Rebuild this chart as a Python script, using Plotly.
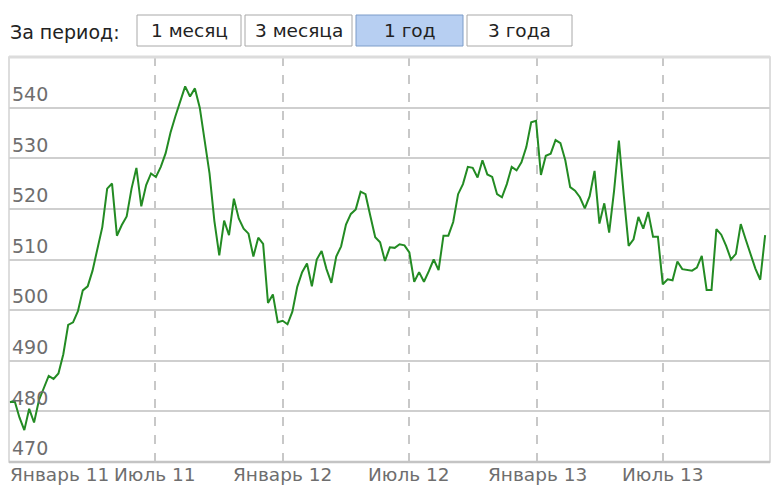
import pandas as pd
import plotly.graph_objects as go

# данные: недельные значения
start_date = "2010-12-05"
values = [
    481.8, 482.1, 478.8, 476.3, 480.5, 477.8, 482.2, 484.8, 487.0, 486.4,
    487.5, 491.3, 497.1, 497.6, 499.8, 503.9, 504.7, 507.8, 511.8, 516.4,
    524.0, 525.0, 514.7, 516.8, 518.5, 524.0, 528.1, 520.5, 524.7, 527.0,
    526.3, 528.3, 531.0, 535.1, 538.3, 541.3, 544.2, 542.2, 543.8, 540.0,
    533.5, 527.0, 517.6, 510.8, 517.7, 514.8, 522.0, 518.1, 516.1, 515.1,
    510.6, 514.3, 513.1, 501.4, 503.1, 497.6, 497.9, 497.2, 499.7, 504.6,
    507.5, 509.2, 504.7, 510.0, 511.7, 508.1, 505.4, 510.6, 512.6, 516.9,
    519.0, 519.9, 523.4, 522.9, 518.6, 514.4, 513.4, 509.7, 512.4, 512.3,
    513.0, 512.8, 511.4, 505.6, 507.5, 505.6, 507.7, 510.0, 507.9, 514.7,
    514.7, 517.4, 522.9, 524.9, 528.3, 528.1, 526.2, 529.6, 526.8, 526.3,
    522.9, 522.3, 524.9, 528.3, 527.6, 529.2, 532.2, 537.1, 537.4, 526.7,
    530.5, 530.9, 533.6, 533.0, 529.6, 524.3, 523.6, 522.3, 520.1, 522.5,
    527.5, 517.1, 521.1, 515.3, 523.5, 533.5, 522.6, 512.7, 514.0, 518.4,
    516.1, 519.4, 514.5, 514.5, 505.1, 506.1, 505.9, 509.6, 508.1, 507.9,
    507.8, 508.4, 510.7, 504.0, 504.0, 516.0, 514.9, 512.7, 510.0, 511.1,
    517.0, 514.0, 511.1, 508.2, 506.0, 514.8,
]
dates = pd.date_range(start_date, periods=len(values), freq="7D")

x_tick_vals = ["2011-01-01", "2011-07-01", "2012-01-01", "2012-07-01", "2013-01-01", "2013-07-01"]
x_tick_text = ["Январь 11", "Июль 11", "Январь 12", "Июль 12", "Январь 13", "Июль 13"]
y_tick_vals = [470, 480, 490, 500, 510, 520, 530, 540]

periods = ["1 месяц", "3 месяца", "1 год", "3 года"]
active_period = "1 год"

# страница добавляет отступ 8px у body — учитываем его
OFF = 8
W, H = 779 - OFF, 492 - OFF
PLOT_L, PLOT_R, PLOT_T, PLOT_B = 9, 770, 57, 462  # координаты окна
L, R, T, B = PLOT_L - OFF, W - (PLOT_R - OFF), PLOT_T - OFF, H - (PLOT_B - OFF)
FONT = "DejaVu Sans"
AXIS_COLOR = "#6e6e6e"


def px_x(p):
    return (p - PLOT_L) / (PLOT_R - PLOT_L)


def px_y(p):
    return (PLOT_B - p) / (PLOT_B - PLOT_T)


fig = go.Figure()
fig.add_trace(go.Scatter(
    x=dates,
    y=values,
    mode="lines",
    line=dict(color="#238b23", width=2),
    hoverinfo="x+y",
))

fig.update_layout(
    width=W,
    height=H,
    margin=dict(l=L, r=R, t=T, b=B),
    paper_bgcolor="white",
    plot_bgcolor="white",
    showlegend=False,
    font=dict(family=FONT, size=18, color=AXIS_COLOR),
    xaxis=dict(
        range=["2010-12-04", "2013-12-01"],
        tickvals=x_tick_vals,
        showticklabels=False,
        showgrid=True,
        gridcolor="#c8c8c8",
        griddash="dash",
        gridwidth=1.5,
        zeroline=False,
        showline=False,
        ticks="",
    ),
    yaxis=dict(
        range=[470, 550],
        tickvals=y_tick_vals,
        ticklabelposition="inside top",
        showgrid=True,
        gridcolor="#cfcfcf",
        gridwidth=1.5,
        zeroline=False,
        showline=False,
        ticks="",
        tickfont=dict(family=FONT, size=19, color=AXIS_COLOR),
    ),
)

# рамка области построения
fig.add_shape(type="rect", xref="paper", yref="paper", x0=0, x1=1, y0=0, y1=1,
              line=dict(color="#d2d2d2", width=1.5), layer="above")
fig.add_shape(type="line", xref="paper", yref="paper", x0=0, x1=1, y0=1, y1=1,
              line=dict(color="#dcdcdc", width=3), layer="above")
fig.add_shape(type="line", xref="paper", yref="paper", x0=0, x1=1, y0=0, y1=0,
              line=dict(color="#c4c4c4", width=2.5), layer="above")

# подписи оси X
for i, (tv, tt) in enumerate(zip(x_tick_vals, x_tick_text)):
    if i == 0:
        fig.add_annotation(x=px_x(8), xref="paper", y=px_y(474), yref="paper",
                           text=tt, showarrow=False, xanchor="left", yanchor="middle",
                           font=dict(family=FONT, size=18.5, color=AXIS_COLOR))
    else:
        fig.add_annotation(x=tv, xref="x", y=px_y(474), yref="paper",
                           text=tt, showarrow=False, xanchor="center", yanchor="middle",
                           font=dict(family=FONT, size=18.5, color=AXIS_COLOR))

# переключатель периода
fig.add_annotation(x=px_x(8), xref="paper", y=px_y(32), yref="paper",
                   text="За период:", showarrow=False, xanchor="left", yanchor="middle",
                   font=dict(family=FONT, size=19, color="#222222"))

btn_edges = [(137, 241), (245, 352), (356, 463), (467, 572)]
for name, (x0, x1) in zip(periods, btn_edges):
    active = name == active_period
    fig.add_shape(type="rect", xref="paper", yref="paper",
                  x0=px_x(x0), x1=px_x(x1), y0=px_y(46), y1=px_y(15),
                  fillcolor="#b7cff2" if active else "#ffffff",
                  line=dict(color="#7d9cc8" if active else "#a8a8a8", width=1))
    fig.add_annotation(x=px_x((x0 + x1) / 2), xref="paper", y=px_y(30), yref="paper",
                       text=name, showarrow=False, xanchor="center", yanchor="middle",
                       font=dict(family=FONT, size=18.5, color="#222222"))

fig.write_html("out.html")
